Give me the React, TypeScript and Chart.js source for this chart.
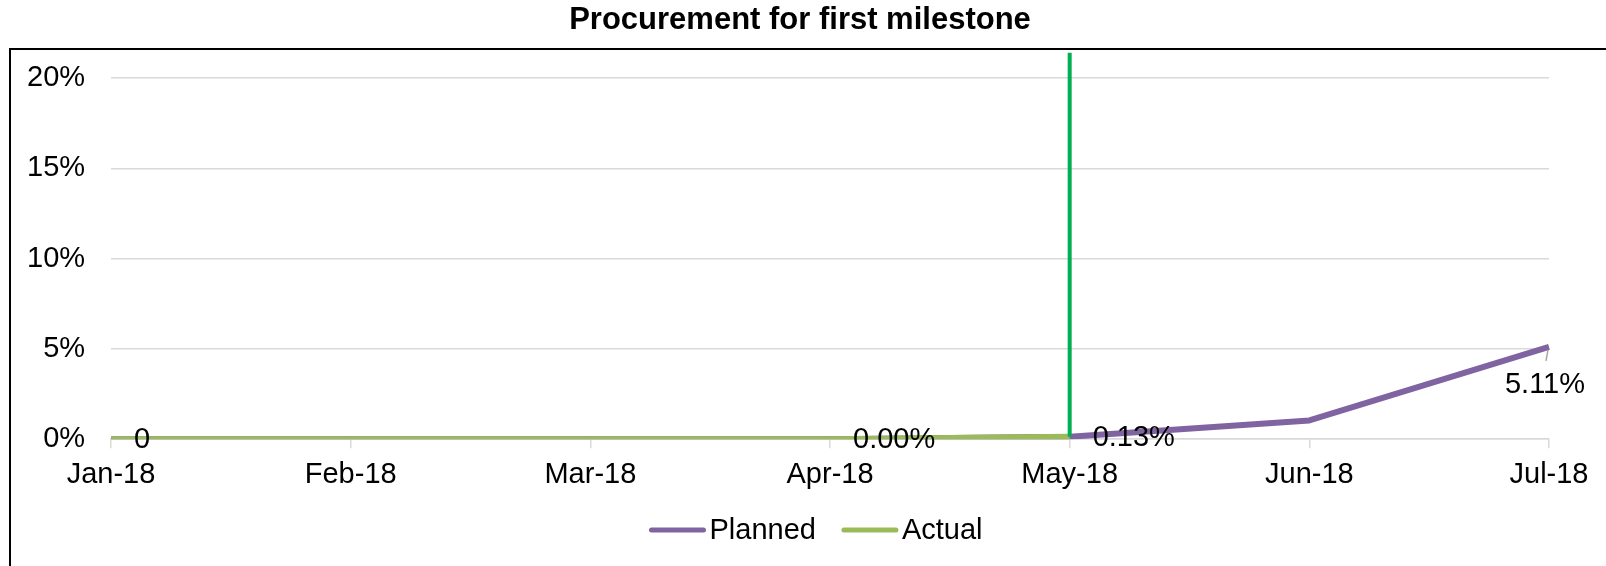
import React, { useEffect, useRef } from "react";
import { Chart, registerables } from "chart.js";

Chart.register(...registerables);

const TITLE = "Procurement for first milestone";
const CATEGORIES = ["Jan-18", "Feb-18", "Mar-18", "Apr-18", "May-18", "Jun-18", "Jul-18"];
const PLANNED = [0, 0, 0, 0, 0.13, 1.04, 5.11];
const ACTUAL: (number | null)[] = [0, 0, 0, 0.0, 0.13, null, null];
const PLANNED_LABELS: (string | null)[] = ["0", null, null, null, null, null, "5.11%"];
const ACTUAL_LABELS: (string | null)[] = [null, null, null, "0.00%", "0.13%", null, null];
const Y_TICKS = [0, 5, 10, 15, 20];
const MILESTONE_CATEGORY = "May-18";
const MILESTONE_FROM = 0.13;
const MILESTONE_TO = 21.4;

const FONT = "'Liberation Sans', Arial, sans-serif";
const FONT_SIZE = 29;
const PLANNED_COLOR = "#8064A2";
const ACTUAL_COLOR = "#9BBB59";
const MILESTONE_COLOR = "#00B050";

const decorPlugin = {
  id: "decor",
  beforeDraw(chart: any) {
    const ctx = chart.ctx;
    ctx.save();
    ctx.fillStyle = "#ffffff";
    ctx.fillRect(0, 0, chart.width, chart.height);
    ctx.strokeStyle = "#000000";
    ctx.lineWidth = 2;
    ctx.strokeRect(10, 49, chart.width + 100, chart.height + 100);
    // title
    ctx.fillStyle = "#000000";
    ctx.font = `bold 31px ${FONT}`;
    ctx.textAlign = "center";
    ctx.textBaseline = "alphabetic";
    ctx.fillText(TITLE, 800, 29);
    ctx.restore();
  },
  afterDatasetsDraw(chart: any) {
    const ctx = chart.ctx;
    const xs = chart.scales.x;
    const ys = chart.scales.y;
    ctx.save();
    // milestone vertical line
    const mx = xs.getPixelForValue(CATEGORIES.indexOf(MILESTONE_CATEGORY));
    ctx.strokeStyle = MILESTONE_COLOR;
    ctx.lineWidth = 4;
    ctx.lineCap = "butt";
    ctx.beginPath();
    ctx.moveTo(mx, ys.getPixelForValue(MILESTONE_FROM));
    ctx.lineTo(mx, ys.getPixelForValue(MILESTONE_TO));
    ctx.stroke();

    // data labels
    ctx.font = `${FONT_SIZE}px ${FONT}`;
    ctx.fillStyle = "#000000";
    const drawLabels = (dsIndex: number, labels: (string | null)[]) => {
      const meta = chart.getDatasetMeta(dsIndex);
      labels.forEach((txt, i) => {
        if (!txt) return;
        const pt = meta.data[i];
        if (!pt) return;
        if (i === labels.length - 1) {
          // below with leader line
          ctx.strokeStyle = "#a6a6a6";
          ctx.lineWidth = 1.5;
          ctx.beginPath();
          ctx.moveTo(pt.x - 1, pt.y + 3);
          ctx.lineTo(pt.x - 3, pt.y + 14);
          ctx.stroke();
          ctx.textAlign = "center";
          ctx.textBaseline = "middle";
          ctx.fillText(txt, pt.x - 4, pt.y + 38);
        } else {
          ctx.textAlign = "left";
          ctx.textBaseline = "middle";
          ctx.fillText(txt, pt.x + 23, pt.y + 1);
        }
      });
    };
    drawLabels(0, PLANNED_LABELS);
    drawLabels(1, ACTUAL_LABELS);

    // legend
    const items = chart.data.datasets.map((d: any) => ({ label: d.label, color: d.borderColor }));
    const sample = 56;
    const gap = 4;
    const itemGap = 26;
    ctx.font = `${FONT_SIZE}px ${FONT}`;
    const widths = items.map((it: any) => sample + gap + ctx.measureText(it.label).width);
    const total = widths.reduce((a: number, b: number) => a + b, 0) + itemGap * (items.length - 1);
    let x = 816 - total / 2;
    const ly = 530;
    items.forEach((it: any, k: number) => {
      ctx.strokeStyle = it.color;
      ctx.lineWidth = 5;
      ctx.lineCap = "round";
      ctx.beginPath();
      ctx.moveTo(x + 2, ly);
      ctx.lineTo(x + sample - 2, ly);
      ctx.stroke();
      ctx.fillStyle = "#000000";
      ctx.textAlign = "left";
      ctx.textBaseline = "middle";
      ctx.fillText(it.label, x + sample + gap, ly + 1);
      x += widths[k] + itemGap;
    });
    ctx.restore();
  },
};

export default function App() {
  const ref = useRef<HTMLCanvasElement | null>(null);
  useEffect(() => {
    document.body.style.margin = "0";
    if (!ref.current) return;
    const chart = new Chart(ref.current, {
      type: "line",
      data: {
        labels: CATEGORIES,
        datasets: [
          {
            label: "Planned",
            data: PLANNED,
            borderColor: PLANNED_COLOR,
            backgroundColor: PLANNED_COLOR,
            borderWidth: 6,
            pointRadius: 0,
            tension: 0,
            order: 1,
            borderCapStyle: "butt",
            borderJoinStyle: "round",
          },
          {
            label: "Actual",
            data: ACTUAL,
            borderColor: ACTUAL_COLOR,
            backgroundColor: ACTUAL_COLOR,
            borderWidth: 6,
            pointRadius: 0,
            tension: 0,
            order: 0,
            borderCapStyle: "butt",
            borderJoinStyle: "round",
          },
        ],
      },
      options: {
        responsive: false,
        animation: false,
        devicePixelRatio: 1,
        layout: { padding: { left: 1, right: 57, top: 78, bottom: 65 } },
        plugins: {
          legend: { display: false },
          title: { display: false },
          tooltip: { enabled: false },
        },
        scales: {
          x: {
            type: "category",
            offset: false,
            grid: {
              drawOnChartArea: false,
              drawTicks: true,
              tickLength: 9,
              tickColor: "#d9d9d9",
              lineWidth: 1.5,
            },
            border: { display: true, color: "#d9d9d9", width: 1.5 },
            ticks: {
              font: { family: FONT, size: FONT_SIZE },
              color: "#000000",
              padding: 9,
              maxRotation: 0,
              autoSkip: false,
            },
          },
          y: {
            min: 0,
            max: 20,
            afterBuildTicks: (scale: any) => {
              scale.ticks = Y_TICKS.map((v) => ({ value: v }));
            },
            grid: { color: "#d9d9d9", lineWidth: 1.5, drawTicks: false },
            border: { display: false },
            ticks: {
              font: { family: FONT, size: FONT_SIZE },
              color: "#000000",
              padding: 26,
              callback: (v: any) => `${v}%`,
            },
          },
        },
      },
      plugins: [decorPlugin],
    } as any);
    return () => chart.destroy();
  }, []);
  return <canvas ref={ref} width={1606} height={566} style={{ display: "block" }} />;
}
